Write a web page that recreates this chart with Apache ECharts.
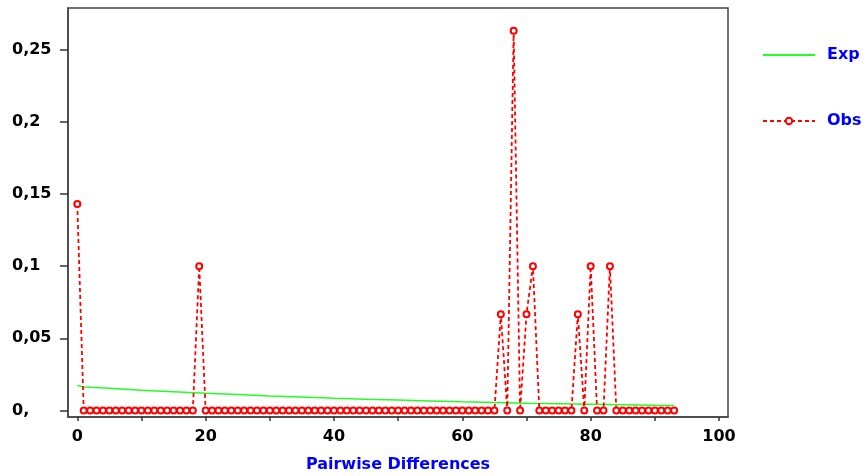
<!DOCTYPE html>
<html>
<head>
<meta charset="utf-8">
<script src="https://cdn.jsdelivr.net/npm/echarts@6/dist/echarts.min.js"></script>
<style>
  html, body { margin: 0; padding: 0; background: #fff; }
  #chart { width: 865px; height: 476px; }
</style>
</head>
<body>
<div id="chart"></div>
<script>
// observed mismatch distribution, one value per pairwise difference 0..93
var obsValues = [
  0.143, 0, 0, 0, 0, 0, 0, 0, 0, 0,        // 0-9
  0, 0, 0, 0, 0, 0, 0, 0, 0, 0.1,          // 10-19
  0, 0, 0, 0, 0, 0, 0, 0, 0, 0,            // 20-29
  0, 0, 0, 0, 0, 0, 0, 0, 0, 0,            // 30-39
  0, 0, 0, 0, 0, 0, 0, 0, 0, 0,            // 40-49
  0, 0, 0, 0, 0, 0, 0, 0, 0, 0,            // 50-59
  0, 0, 0, 0, 0, 0, 0.0667, 0, 0.263, 0,   // 60-69
  0.0667, 0.1, 0, 0, 0, 0, 0, 0, 0.0667, 0, // 70-79
  0.1, 0, 0, 0.1, 0, 0, 0, 0, 0, 0,        // 80-89
  0, 0, 0, 0                               // 90-93
];

// expected curve, read at a few x positions
var expX = [0, 1, 5, 10, 15, 20, 25, 30, 35, 40, 45, 50, 55, 60, 65, 70, 75, 80, 85, 90, 93];
var expValues = [0.0174, 0.0163, 0.0154, 0.0141, 0.0130, 0.0119, 0.0110, 0.0101, 0.0093, 0.0085,
                 0.0078, 0.0072, 0.0066, 0.0060, 0.0056, 0.0051, 0.0047, 0.0043, 0.0040, 0.0036, 0.0035];

var xTicks = [0, 10, 20, 30, 40, 50, 60, 70, 80, 90, 100];
var xLabels = [0, 20, 40, 60, 80, 100];
var yTicks = [0, 0.05, 0.1, 0.15, 0.2, 0.25];

var obsData = obsValues.map(function (v, i) { return [i, v]; });
var expData = expX.map(function (x, i) { return [x, expValues[i]]; });

var font = 'DejaVu Sans';

var option = {
  backgroundColor: '#fff',
  animation: false,
  grid: {
    left: 68, right: 137, top: 8, bottom: 59,
    outerBoundsMode: 'none',
    show: true,
    borderColor: '#444',
    borderWidth: 1.5
  },
  legend: {
    orient: 'vertical',
    left: 762,
    top: 47,
    padding: 0,
    itemWidth: 52,
    itemHeight: 8,
    itemGap: 50,
    data: [
      { name: 'Exp', itemStyle: { opacity: 0 } },
      { name: 'Obs' }
    ],
    textStyle: {
      color: '#0000ff',
      fontFamily: font,
      fontWeight: 'bold',
      fontSize: 16,
      padding: [0, 0, 0, 7]
    }
  },
  xAxis: {
    type: 'value',
    min: -1.45,
    max: 101.4,
    name: 'Pairwise Differences',
    nameLocation: 'middle',
    nameGap: 40,
    nameTextStyle: {
      color: '#0000ff',
      fontFamily: font,
      fontWeight: 'bold',
      fontSize: 16
    },
    axisLine: { show: true, onZero: false, lineStyle: { color: '#444', width: 1.5 } },
    axisTick: {
      show: true, inside: false, length: 4, customValues: xTicks,
      lineStyle: { color: '#333', width: 1.5 }
    },
    axisLabel: {
      customValues: xLabels,
      margin: 12,
      color: '#000',
      fontFamily: font,
      fontWeight: 'bold',
      fontSize: 16
    },
    splitLine: { show: false }
  },
  yAxis: {
    type: 'value',
    min: -0.0045,
    max: 0.2788,
    axisLine: { show: true, onZero: false, lineStyle: { color: '#444', width: 1.5 } },
    axisTick: {
      show: true, inside: false, length: 8, customValues: yTicks,
      lineStyle: { color: '#333', width: 1.5 }
    },
    axisLabel: {
      customValues: yTicks,
      align: 'left',
      margin: 56,
      padding: [5, 0, 0, 0],
      color: '#000',
      fontFamily: font,
      fontWeight: 'bold',
      fontSize: 16,
      formatter: function (v) {
        return v === 0 ? '0,' : String(v).replace('.', ',');
      }
    },
    splitLine: { show: false }
  },
  series: [
    {
      name: 'Exp',
      type: 'line',
      data: expData,
      symbol: 'none',
      showSymbol: false,
      color: '#22ff22',
      lineStyle: { color: '#22ff22', width: 1.5 }
    },
    {
      name: 'Obs',
      type: 'line',
      data: obsData,
      symbol: 'emptyCircle',
      symbolSize: 6,
      showSymbol: true,
      showAllSymbol: true,
      color: '#ff0000',
      itemStyle: { color: '#ff0000', borderWidth: 1.3 },
      lineStyle: { color: '#ff0000', width: 1.8, type: [4, 3] }
    }
  ]
};

var chart = echarts.init(document.getElementById('chart'));
chart.setOption(option);
</script>
</body>
</html>
